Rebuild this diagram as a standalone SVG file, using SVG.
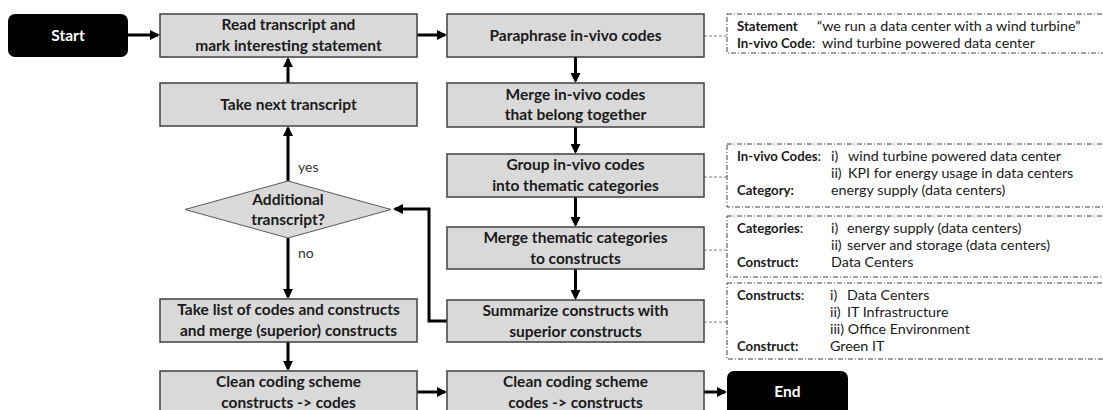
<svg xmlns="http://www.w3.org/2000/svg" width="1103" height="410" viewBox="0 0 1103 410">
  <defs>
    <marker id="arrow" viewBox="0 0 10 10" markerWidth="10" markerHeight="10" markerUnits="userSpaceOnUse" refX="8" refY="5" orient="auto">
      <path d="M0,0 L10,5 L0,10 z" fill="#000"/>
    </marker>
    <style>
      .step { fill: #d9d9d9; stroke: #404040; stroke-width: 1.5; }
      .term { fill: #000; }
      .decision { fill: #d9d9d9; stroke: #595959; stroke-width: 1; }
      .lbl { font-family: Lato, "Liberation Sans", sans-serif; font-weight: bold; font-size: 15.5px; fill: #1a1a1a; text-anchor: middle; }
      .tlbl { font-family: Lato, "Liberation Sans", sans-serif; font-weight: bold; font-size: 15.5px; fill: #fff; text-anchor: middle; }
      .flow { fill: none; stroke: #000; stroke-width: 3; marker-end: url(#arrow); }
      .branch { font-family: Lato, "Liberation Sans", sans-serif; font-size: 14px; fill: #333; }
      .note { fill: #fff; stroke: #404040; stroke-width: 1; stroke-dasharray: 5 2 1 2; }
      .link { fill: none; stroke: #7f7f7f; stroke-width: 1; stroke-dasharray: 3 2; }
      .nt { font-family: Lato, "Liberation Sans", sans-serif; font-size: 14.3px; fill: #1a1a1a; }
      .nb { font-weight: bold; font-size: 13.2px; }
    </style>
  </defs>

  <!-- connectors -->
  <g id="connectors">
    <path class="flow" d="M128 35 H158"/>
    <path class="flow" d="M417 35 H445"/>
    <path class="flow" d="M288 83 V59"/>
    <path class="flow" d="M288 181 V128"/>
    <path class="flow" d="M288 238 V297"/>
    <path class="flow" d="M288 342 V369"/>
    <path class="flow" d="M417 392 H445"/>
    <path class="flow" d="M704 392 H725"/>
    <path class="flow" d="M575.5 57 V81"/>
    <path class="flow" d="M575.5 127 V152"/>
    <path class="flow" d="M575.5 197 V225"/>
    <path class="flow" d="M575.5 269 V298"/>
    <path class="flow" d="M447 321 H429 V209 H395"/>
    <text class="branch" x="298" y="172">yes</text>
    <text class="branch" x="298" y="258">no</text>
    <!-- annotation leaders -->
    <path class="link" d="M704 36 H727"/>
    <path class="link" d="M704 177 H727"/>
    <path class="link" d="M704 250 H727"/>
    <path class="link" d="M704 322 H727"/>
  </g>

  <g id="start">
    <rect class="term" x="8" y="14" width="120" height="43" rx="7"/>
    <text class="tlbl" x="68" y="41">Start</text>
  </g>

  <g id="read-transcript">
    <rect class="step" x="160" y="14" width="257" height="43"/>
    <text class="lbl" x="288.5" y="30">Read transcript and</text>
    <text class="lbl" x="288.5" y="50.5">mark interesting statement</text>
  </g>

  <g id="take-next">
    <rect class="step" x="160" y="83" width="257" height="43"/>
    <text class="lbl" x="288.5" y="110">Take next transcript</text>
  </g>

  <g id="additional-transcript">
    <polygon class="decision" points="288,181 391,209.5 288,238 185,209.5"/>
    <text class="lbl" x="288" y="205">Additional</text>
    <text class="lbl" x="288" y="224.5">transcript?</text>
  </g>

  <g id="take-list">
    <rect class="step" x="160" y="299" width="257" height="43"/>
    <text class="lbl" x="288.5" y="315">Take list of codes and constructs</text>
    <text class="lbl" x="288.5" y="335.5">and merge (superior) constructs</text>
  </g>

  <g id="clean-constructs-codes">
    <rect class="step" x="160" y="371" width="257" height="43"/>
    <text class="lbl" x="288.5" y="387">Clean coding scheme</text>
    <text class="lbl" x="288.5" y="407.5">constructs -&gt; codes</text>
  </g>

  <g id="paraphrase">
    <rect class="step" x="447" y="14" width="257" height="43"/>
    <text class="lbl" x="575.5" y="41">Paraphrase  in-vivo codes</text>
  </g>

  <g id="merge-codes">
    <rect class="step" x="447" y="83" width="257" height="44"/>
    <text class="lbl" x="575.5" y="100">Merge in-vivo codes</text>
    <text class="lbl" x="575.5" y="120">that belong together</text>
  </g>

  <g id="group-codes">
    <rect class="step" x="447" y="154" width="257" height="43"/>
    <text class="lbl" x="575.5" y="170">Group in-vivo codes</text>
    <text class="lbl" x="575.5" y="190.5">into thematic categories</text>
  </g>

  <g id="merge-categories">
    <rect class="step" x="447" y="227" width="257" height="42"/>
    <text class="lbl" x="575.5" y="243">Merge thematic categories</text>
    <text class="lbl" x="575.5" y="263.5">to constructs</text>
  </g>

  <g id="summarize">
    <rect class="step" x="447" y="300" width="257" height="42"/>
    <text class="lbl" x="575.5" y="316">Summarize constructs with</text>
    <text class="lbl" x="575.5" y="336.5">superior constructs</text>
  </g>

  <g id="clean-codes-constructs">
    <rect class="step" x="447" y="371" width="257" height="43"/>
    <text class="lbl" x="575.5" y="387">Clean coding scheme</text>
    <text class="lbl" x="575.5" y="407.5">codes -&gt; constructs</text>
  </g>

  <g id="end">
    <rect class="term" x="727" y="371" width="121" height="50" rx="7"/>
    <text class="tlbl" x="787.5" y="397">End</text>
  </g>

  <g id="note-statement">
    <rect class="note" x="727" y="14" width="390" height="39"/>
    <text class="nt nb" x="737" y="31">Statement</text>
    <text class="nt" x="817" y="31">“we run a data center with a wind turbine”</text>
    <text class="nt" x="737" y="48"><tspan class="nb">In-vivo Code</tspan>:</text>
    <text class="nt" x="822" y="48">wind turbine powered data center</text>
  </g>

  <g id="note-category">
    <rect class="note" x="727" y="144" width="390" height="63"/>
    <text class="nt" x="737" y="161"><tspan class="nb">In-vivo Codes</tspan>:</text>
    <text class="nt" x="831" y="161">i)</text>
    <text class="nt" x="848" y="161">wind turbine powered data center</text>
    <text class="nt" x="831" y="178">ii)</text>
    <text class="nt" x="848" y="178">KPI for energy usage in data centers</text>
    <text class="nt nb" x="737" y="195">Category:</text>
    <text class="nt" x="831" y="195">energy supply (data centers)</text>
  </g>

  <g id="note-construct">
    <rect class="note" x="727" y="216" width="390" height="61"/>
    <text class="nt" x="737" y="233"><tspan class="nb">Categories</tspan>:</text>
    <text class="nt" x="831" y="233">i)</text>
    <text class="nt" x="847" y="233">energy supply (data centers)</text>
    <text class="nt" x="831" y="250">ii)</text>
    <text class="nt" x="847" y="250">server and storage (data centers)</text>
    <text class="nt nb" x="737" y="267">Construct:</text>
    <text class="nt" x="831" y="267">Data Centers</text>
  </g>

  <g id="note-superior">
    <rect class="note" x="727" y="283" width="390" height="76"/>
    <text class="nt" x="737" y="300"><tspan class="nb">Constructs</tspan>:</text>
    <text class="nt" x="830" y="300">i)</text>
    <text class="nt" x="847" y="300">Data Centers</text>
    <text class="nt" x="830" y="317">ii)</text>
    <text class="nt" x="847" y="317">IT Infrastructure</text>
    <text class="nt" x="830" y="334">iii) Office Environment</text>
    <text class="nt nb" x="737" y="351">Construct:</text>
    <text class="nt" x="830" y="351">Green IT</text>
  </g>
</svg>
